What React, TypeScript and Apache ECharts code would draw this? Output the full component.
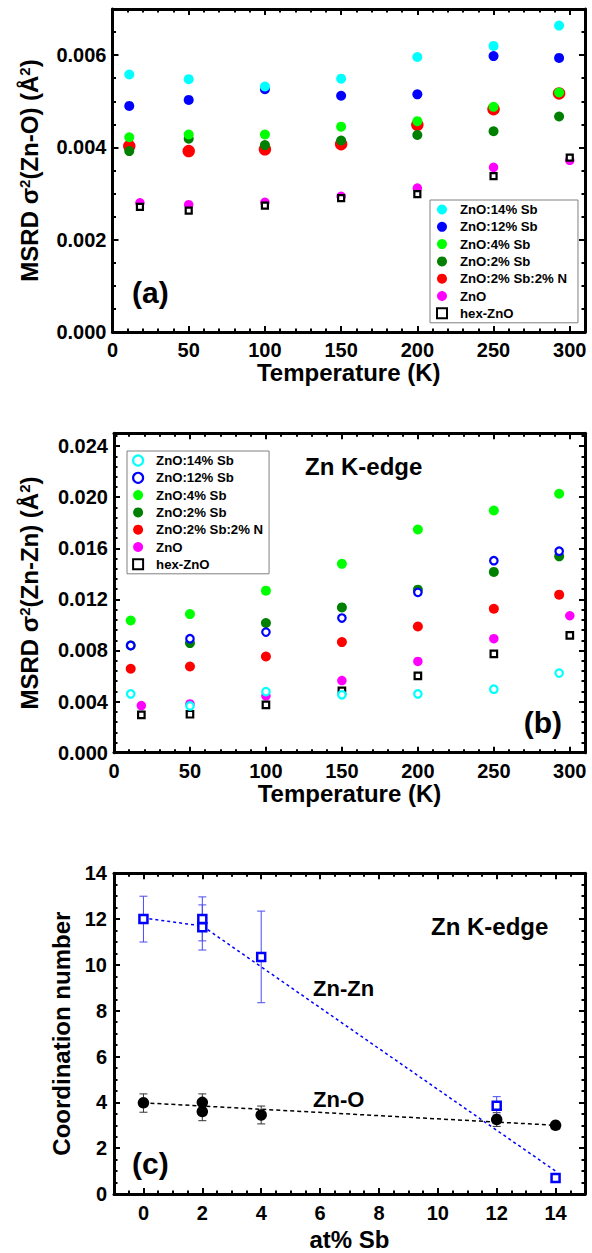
import React, { useEffect, useRef } from "react";
import * as echarts from "echarts";

// ---------- data ----------
const tempSb = [11, 50, 100, 150, 200, 250, 293];
const tempZnO = [18, 50, 100, 150, 200, 250, 300];
const legendNames = ["ZnO:14% Sb", "ZnO:12% Sb", "ZnO:4% Sb", "ZnO:2% Sb", "ZnO:2% Sb:2% N", "ZnO", "hex-ZnO"];

// panel (a) MSRD Zn-O
const a_sb14 = [0.00558, 0.00548, 0.00532, 0.00549, 0.00596, 0.0062, 0.00664];
const a_sb12 = [0.0049, 0.00503, 0.00526, 0.00512, 0.00515, 0.00598, 0.00594];
const a_sb4 = [0.00422, 0.00428, 0.00428, 0.00445, 0.00457, 0.00488, 0.00519];
const a_sb2 = [0.00392, 0.00419, 0.00405, 0.00415, 0.00427, 0.00435, 0.00467];
const a_sb2n = [0.00403, 0.00392, 0.00396, 0.00407, 0.00449, 0.00483, 0.00517];
const a_zno = [0.0028, 0.00276, 0.00281, 0.00294, 0.00312, 0.00357, 0.00372];
const a_hex = [0.00271, 0.00263, 0.00274, 0.0029, 0.00299, 0.00338, 0.00378];

// panel (b) MSRD Zn-Zn
const b_sb14 = [0.0046, 0.00366, 0.00478, 0.00453, 0.0046, 0.00497, 0.00623];
const b_sb12 = [0.00839, 0.00892, 0.00944, 0.01054, 0.01255, 0.01503, 0.01577];
const b_sb4 = [0.01035, 0.01085, 0.01268, 0.01478, 0.01747, 0.01896, 0.02027];
const b_sb2 = [0.0084, 0.00858, 0.01015, 0.01137, 0.01276, 0.01415, 0.01537];
const b_sb2n = [0.00657, 0.00675, 0.00753, 0.00866, 0.00988, 0.01127, 0.01237];
const b_zno = [0.00369, 0.00382, 0.00445, 0.00565, 0.00714, 0.00892, 0.01072];
const b_hex = [0.00296, 0.00301, 0.00374, 0.00484, 0.00602, 0.00774, 0.00918];

// panel (c) coordination numbers
const c_sb = [0, 2, 2, 4, 12, 14];
const c_znzn = [12.0, 12.0, 11.65, 10.35, 3.85, 0.7];
const c_znzn_lo = [11.0, 11.05, 10.65, 8.35, 3.45, 0.7];
const c_znzn_hi = [13.0, 12.97, 12.62, 12.35, 4.25, 0.7];
const c_zno = [3.98, 4.0, 3.6, 3.45, 3.25, 3.0];
const c_zno_lo = [3.57, 3.6, 3.2, 3.06, 2.95, 3.0];
const c_zno_hi = [4.37, 4.37, 3.98, 3.84, 3.55, 3.0];
const c_fitZnZn_x = [0, 2, 14];
const c_fitZnZn_y = [12.05, 11.7, 1.0];
const c_fitZnO_x = [0, 14];
const c_fitZnO_y = [3.98, 3.0];

// ---------- styles ----------
const FONT = '"Liberation Sans", Arial, Helvetica, sans-serif';
const C = {
  cyan: "#00ffff",
  blue: "#0000ff",
  green: "#00ff00",
  dkgreen: "#008000",
  red: "#ff0000",
  magenta: "#ff00ff",
  black: "#000000",
};
const SQUARE = "path://M0,0L10,0L10,10L0,10Z";

const zip = (xs: number[], ys: number[]) => xs.map((x, i) => [x, ys[i]]);

type AxisCfg = {
  grid: number;
  min: number;
  max: number;
  major: number;
  minor: number;
  formatter?: (v: number) => string;
  labelCustom?: number[];
  tickCustom?: number[];
  name?: string;
  nameGap?: number;
  labelMargin?: number;
  showMaxLabel?: boolean;
};

const xAxes: any[] = [];
const yAxes: any[] = [];

const nameRich = {
  s: { fontSize: 15, fontWeight: "bold", fontFamily: FONT, color: "#000", verticalAlign: "top", padding: [0, 0, 10, 0] },
};

function addAxes(kind: "x" | "y", cfg: AxisCfg): number {
  const list = kind === "x" ? xAxes : yAxes;
  const posMain = kind === "x" ? "bottom" : "left";
  const posMirror = kind === "x" ? "top" : "right";
  const mainIndex = list.length;
  const base = {
    type: "value",
    gridIndex: cfg.grid,
    min: cfg.min,
    max: cfg.max,
    splitLine: { show: false },
  };
  const line = { show: true, onZero: false, lineStyle: { color: "#000", width: 3 } };
  const noLine = { show: false, onZero: false };
  const majorTick: any = { show: true, inside: true, length: 6, lineStyle: { color: "#000", width: 2 } };
  if (cfg.tickCustom) majorTick.customValues = cfg.tickCustom;
  const minorTick = { show: true, inside: true, length: 3.5, lineStyle: { color: "#000", width: 2 } };
  const label: any = {
    show: true,
    color: "#000",
    fontFamily: FONT,
    fontWeight: "bold",
    fontSize: 20,
    margin: cfg.labelMargin ?? 7,
    showMaxLabel: cfg.showMaxLabel ?? false,
    showMinLabel: true,
  };
  if (cfg.formatter) label.formatter = cfg.formatter;
  if (cfg.labelCustom) label.customValues = cfg.labelCustom;

  list.push({
    ...base,
    position: posMain,
    interval: cfg.major,
    axisLine: line,
    axisTick: majorTick,
    axisLabel: label,
    name: cfg.name,
    nameLocation: "middle",
    nameGap: cfg.nameGap,
    nameTextStyle: { color: "#000", fontFamily: FONT, fontWeight: "bold", fontSize: 24, rich: nameRich },
    z: 10,
  });
  list.push({ ...base, position: posMain, interval: cfg.minor, axisLine: noLine, axisTick: minorTick, axisLabel: { show: false }, z: 10 });
  list.push({ ...base, position: posMirror, interval: cfg.major, axisLine: line, axisTick: { ...majorTick }, axisLabel: { show: false }, z: 10 });
  list.push({ ...base, position: posMirror, interval: cfg.minor, axisLine: noLine, axisTick: minorTick, axisLabel: { show: false }, z: 10 });
  return mainIndex;
}

// panel (a)
const ax = addAxes("x", { grid: 0, min: 0, max: 310, major: 50, minor: 10, name: "Temperature (K)", nameGap: 28, labelMargin: 8 });
const ay = addAxes("y", { grid: 0, min: 0, max: 0.007, major: 0.002, minor: 0.0005, formatter: (v) => v.toFixed(3), name: "MSRD σ{s|2}(Zn-O) (Å{s|2})", nameGap: 71, labelMargin: 6 });
// panel (b)
const bx = addAxes("x", { grid: 1, min: 0, max: 310, major: 50, minor: 10, name: "Temperature (K)", nameGap: 28, labelMargin: 8 });
const by = addAxes("y", { grid: 1, min: 0, max: 0.025, major: 0.004, minor: 0.0008, formatter: (v) => v.toFixed(3), name: "MSRD σ{s|2}(Zn-Zn) (Å{s|2})", nameGap: 72, labelMargin: 6 });
// panel (c)
const evenTicks = [0, 2, 4, 6, 8, 10, 12, 14];
const cx = addAxes("x", { grid: 2, min: -1, max: 15, major: 1, minor: 0.5, labelCustom: evenTicks, tickCustom: evenTicks, name: "at% Sb", nameGap: 33, labelMargin: 9, showMaxLabel: true });
const cy = addAxes("y", { grid: 2, min: 0, max: 14, major: 2, minor: 0.5, name: "Coordination number", nameGap: 38, labelMargin: 7, showMaxLabel: true });

function scatter(name: string, xi: number, yi: number, xs: number[], ys: number[], color: string, size: number, open = false, symbol = "circle") {
  return {
    type: "scatter",
    name,
    xAxisIndex: xi,
    yAxisIndex: yi,
    data: zip(xs, ys),
    symbol,
    symbolSize: size,
    itemStyle: open ? { color: "#fff", borderColor: color, borderWidth: 2.2, opacity: 1 } : { color, opacity: 1 },
    emphasis: { disabled: true },
    silent: true,
    z: 3,
  };
}

function errorBars(xi: number, yi: number, xs: number[], lo: number[], hi: number[], color: string) {
  return {
    type: "custom",
    xAxisIndex: xi,
    yAxisIndex: yi,
    data: xs.map((x, i) => [x, lo[i], hi[i]]),
    encode: { x: 0, y: [1, 2] },
    silent: true,
    z: 2,
    renderItem: (params: any, api: any) => {
      const x = api.value(0);
      const pLo = api.coord([x, api.value(1)]);
      const pHi = api.coord([x, api.value(2)]);
      const w = 4;
      const st = { stroke: color, lineWidth: 1 };
      return {
        type: "group",
        children: [
          { type: "line", shape: { x1: pLo[0], y1: pLo[1], x2: pHi[0], y2: pHi[1] }, style: st },
          { type: "line", shape: { x1: pLo[0] - w, y1: pLo[1], x2: pLo[0] + w, y2: pLo[1] }, style: st },
          { type: "line", shape: { x1: pHi[0] - w, y1: pHi[1], x2: pHi[0] + w, y2: pHi[1] }, style: st },
        ],
      };
    },
  };
}

function legendItems(openFirstTwo: boolean) {
  const colors = [C.cyan, C.blue, C.green, C.dkgreen, C.red, C.magenta];
  const items: any[] = legendNames.slice(0, 6).map((n, i) => {
    if (openFirstTwo && i < 2) {
      return { name: n, icon: "circle", itemStyle: { color: "#fff", borderColor: colors[i], borderWidth: 2.2 } };
    }
    return { name: n, icon: "circle", itemStyle: { color: colors[i], borderWidth: 0 } };
  });
  items.push({ name: legendNames[6], icon: SQUARE, itemStyle: { color: "#fff", borderColor: "#000", borderWidth: 2 } });
  return items;
}

const legendBase = {
  orient: "vertical",
  itemWidth: 26,
  itemHeight: 10,
  itemGap: 4.3,
  borderColor: "#808080",
  borderWidth: 1,
  selectedMode: false,
  textStyle: { color: "#000", fontFamily: FONT, fontWeight: "bold", fontSize: 13.2 },
};

function textEl(text: string, x: number, y: number, size: number, align = "left") {
  return {
    type: "text",
    x,
    y,
    silent: true,
    style: { text, fill: "#000", font: `bold ${size}px ${FONT}`, textAlign: align, textVerticalAlign: "middle" },
    z: 20,
  };
}

const option: any = {
  animation: false,
  backgroundColor: "#fff",
  grid: [
    { left: 112.5, top: 9, width: 472.5, height: 323 },
    { left: 114, top: 433.3, width: 471, height: 319.4 },
    { left: 114, top: 873.3, width: 471, height: 320.7 },
  ],
  xAxis: xAxes,
  yAxis: yAxes,
  legend: [
    { ...legendBase, left: 430, top: 200, padding: [3, 11, 3, 6], data: legendItems(false) },
    { ...legendBase, left: 127, top: 451, padding: [3, 6, 3, 5], data: legendItems(true) },
  ],
  graphic: [
    textEl("(a)", 132, 292, 30),
    textEl("Zn K-edge", 305, 466, 24),
    textEl("(b)", 562, 722, 30, "right"),
    textEl("Zn K-edge", 431, 926, 24),
    textEl("Zn-Zn", 313, 988, 22),
    textEl("Zn-O", 313, 1099, 22),
    textEl("(c)", 132, 1163, 30),
  ],
  series: [
    // (a)
    scatter("ZnO", ax, ay, tempZnO, a_zno, C.magenta, 9.5),
    scatter("ZnO:2% Sb:2% N", ax, ay, tempSb, a_sb2n, C.red, 12.5),
    scatter("hex-ZnO", ax, ay, tempZnO, a_hex, C.black, 6, true, "rect"),
    scatter("ZnO:2% Sb", ax, ay, tempSb, a_sb2, C.dkgreen, 10),
    scatter("ZnO:4% Sb", ax, ay, tempSb, a_sb4, C.green, 10),
    scatter("ZnO:12% Sb", ax, ay, tempSb, a_sb12, C.blue, 10),
    scatter("ZnO:14% Sb", ax, ay, tempSb, a_sb14, C.cyan, 10),
    // (b)
    scatter("ZnO", bx, by, tempZnO, b_zno, C.magenta, 9.5),
    scatter("ZnO:2% Sb:2% N", bx, by, tempSb, b_sb2n, C.red, 10),
    scatter("hex-ZnO", bx, by, tempZnO, b_hex, C.black, 6.5, true, "rect"),
    scatter("ZnO:2% Sb", bx, by, tempSb, b_sb2, C.dkgreen, 10),
    scatter("ZnO:4% Sb", bx, by, tempSb, b_sb4, C.green, 10),
    scatter("ZnO:12% Sb", bx, by, tempSb, b_sb12, C.blue, 7.5, true),
    scatter("ZnO:14% Sb", bx, by, tempSb, b_sb14, C.cyan, 7.5, true),
    // (c)
    {
      type: "line",
      xAxisIndex: cx,
      yAxisIndex: cy,
      data: zip(c_fitZnO_x, c_fitZnO_y),
      showSymbol: false,
      symbol: "none",
      lineStyle: { color: "#000", width: 1.5, type: [4, 3] },
      silent: true,
      z: 1,
    },
    {
      type: "line",
      xAxisIndex: cx,
      yAxisIndex: cy,
      data: zip(c_fitZnZn_x, c_fitZnZn_y),
      showSymbol: false,
      symbol: "none",
      lineStyle: { color: C.blue, width: 1.5, type: [3, 3] },
      silent: true,
      z: 1,
    },
    errorBars(cx, cy, c_sb, c_zno_lo, c_zno_hi, "#333"),
    errorBars(cx, cy, c_sb, c_znzn_lo, c_znzn_hi, "#4a4af2"),
    {
      type: "scatter",
      xAxisIndex: cx,
      yAxisIndex: cy,
      data: zip(c_sb, c_zno),
      symbol: "circle",
      symbolSize: 11.5,
      itemStyle: { color: "#000", opacity: 1 },
      emphasis: { disabled: true },
      silent: true,
      z: 3,
    },
    {
      type: "scatter",
      xAxisIndex: cx,
      yAxisIndex: cy,
      data: zip(c_sb, c_znzn),
      symbol: "rect",
      symbolSize: 8,
      itemStyle: { color: "#fff", borderColor: C.blue, borderWidth: 2.5, opacity: 1 },
      emphasis: { disabled: true },
      silent: true,
      z: 4,
    },
  ],
};

export default function App() {
  const ref = useRef<HTMLDivElement>(null);
  useEffect(() => {
    if (!ref.current) return;
    const chart = echarts.init(ref.current, undefined, { renderer: "svg" });
    chart.setOption(option);
    return () => chart.dispose();
  }, []);
  return <div ref={ref} style={{ position: "absolute", left: 0, top: 0, width: 592, height: 1253, background: "#fff" }} />;
}
